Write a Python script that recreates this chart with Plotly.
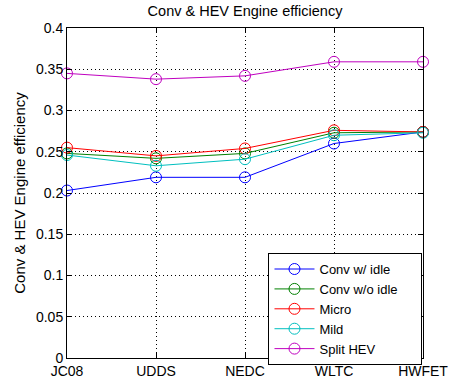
import plotly.graph_objects as go

categories = ["JC08", "UDDS", "NEDC", "WLTC", "HWFET"]
conv_idle = [0.203, 0.219, 0.219, 0.260, 0.274]
conv_noidle = [0.248, 0.242, 0.248, 0.273, 0.274]
micro = [0.255, 0.245, 0.254, 0.276, 0.274]
mild = [0.246, 0.233, 0.241, 0.270, 0.273]
split_hev = [0.345, 0.338, 0.342, 0.359, 0.359]
yticks = [0, 0.05, 0.1, 0.15, 0.2, 0.25, 0.3, 0.35, 0.4]
yticklabels = ["0", "0.05", "0.1", "0.15", "0.2", "0.25", "0.3", "0.35", "0.4"]

series = [
    ("Conv w/ idle", conv_idle, "#0000ff"),
    ("Conv w/o idle", conv_noidle, "#008000"),
    ("Micro", micro, "#ff0000"),
    ("Mild", mild, "#00bfbf"),
    ("Split HEV", split_hev, "#bf00bf"),
]

xpos = list(range(1, len(categories) + 1))
fig = go.Figure()
for name, vals, col in series:
    label = name + "\u00a0" * 5 if name == "Conv w/o idle" else name
    fig.add_trace(go.Scatter(
        x=xpos, y=vals, name=label, mode="lines+markers",
        line=dict(color=col, width=1),
        marker=dict(symbol="circle-open", size=11, color=col, line=dict(width=1, color=col)),
        cliponaxis=False,
    ))

axis_common = dict(
    showline=True, linecolor="black", linewidth=1, mirror="ticks",
    ticks="inside", ticklen=5, tickcolor="black",
    showgrid=True, gridcolor="black", griddash="1px,3px", gridwidth=1,
    zeroline=False, tickfont=dict(size=14, color="black"),
)
fig.update_xaxes(range=[1, 5], tickvals=xpos, ticktext=categories, **axis_common)
fig.update_yaxes(range=[0, 0.4], tickvals=yticks, ticktext=yticklabels,
                 title=dict(text="Conv & HEV Engine efficiency", font=dict(size=15, color="black"), standoff=6),
                 **axis_common)

fig.update_layout(
    width=460, height=391,
    margin=dict(l=67, r=31, t=28, b=25),
    paper_bgcolor="white", plot_bgcolor="white",
    font=dict(family="Liberation Sans, Arial, sans-serif", color="black"),
    title=dict(text="Conv & HEV Engine efficiency", x=0.5, xanchor="center", y=0.985, yanchor="top",
               xref="paper", font=dict(size=14.5, color="black")),
    legend=dict(x=0.566, y=0.318, xanchor="left", yanchor="top",
                bordercolor="black", borderwidth=1, bgcolor="white",
                font=dict(size=13, color="black"), itemwidth=40,
                tracegroupgap=0),
)
fig.write_html("out.html")
